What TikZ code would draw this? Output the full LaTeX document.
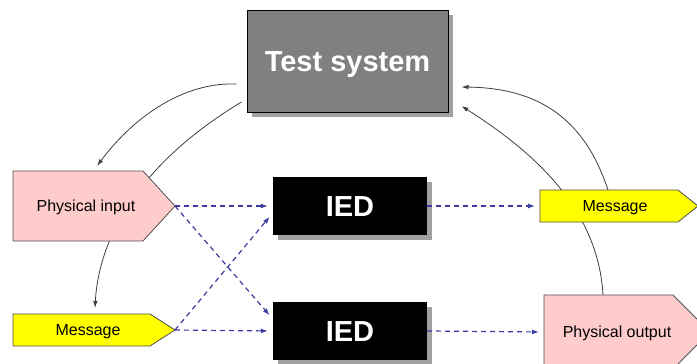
\documentclass[tikz,border=0pt]{standalone}
\usepackage{fontspec}
\setmainfont{Liberation Sans}
\usetikzlibrary{arrows.meta,calc,shadows}
\definecolor{tsgray}{HTML}{808080}
\definecolor{shade}{HTML}{A0A0A0}
\definecolor{pinkfill}{HTML}{FFCCCC}
\definecolor{msgyellow}{HTML}{FFFF00}
\definecolor{edge}{HTML}{505050}
\definecolor{wire}{HTML}{404040}
\definecolor{flow}{HTML}{3C3CA0}
\pgfdeclarelayer{wires}
\pgfsetlayers{wires,main}
\begin{document}
\begin{tikzpicture}[x=1pt,y=-1pt,
  every node/.style={inner sep=0pt},
  boxshadow/.style={drop shadow={shadow xshift=5pt,shadow yshift=-5pt,fill=shade,draw=none,opacity=1}},
  sysbox/.style={draw=black,line width=1pt,fill=tsgray,minimum width=201pt,minimum height=102pt,
    text=white,font=\fontsize{29}{34}\selectfont\bfseries,text height=20.8pt,text depth=0pt,boxshadow},
  iedbox/.style={fill=black,minimum width=154pt,minimum height=58pt,
    text=white,font=\fontsize{29}{34}\selectfont\bfseries,text height=20.8pt,text depth=0pt,boxshadow},
  tagpink/.style={draw=edge,line width=0.8pt,fill=pinkfill},
  tagyellow/.style={draw=edge,line width=0.8pt,fill=msgyellow},
  tagtext/.style={font=\fontsize{16}{19}\selectfont,text height=11.5pt,text depth=0pt},
  link/.style={draw=wire,line width=0.8pt,-{Latex[length=7pt,width=4.5pt]}},
  flowarrow/.style={draw=flow,line width=1.2pt,dash pattern=on 5pt off 4pt,
    -{Latex[length=7pt,width=5pt]},shorten >=5pt}]

% canvas
\begin{pgfonlayer}{wires}
  \fill[white] (0,0) rectangle (697,364);
\end{pgfonlayer}
\useasboundingbox (0,0) rectangle (697,364);
\clip (0,0) rectangle (697,364);

% main blocks
\node[sysbox] (ts) at (347.5,61) {Test system};
\node[iedbox] (ied1) at (350,206) {IED};
\node[iedbox] (ied2) at (350,331) {IED};

% tag shaped signal boxes
\path[tagpink] (13,171) -- (143,171) -- (175,206) -- (143,241) -- (13,241) -- cycle;
\node[tagtext] (pin) at (86,206) {Physical input};
\coordinate (pin-tip) at (175,206);

\path[tagyellow] (13,314) -- (150,314) -- (175,330) -- (150,346) -- (13,346) -- cycle;
\node[tagtext] (msgl) at (88,330) {Message};
\coordinate (msgl-tip) at (175,330);

\path[tagyellow] (540,190) -- (678,190) -- (698,206) -- (678,222) -- (540,222) -- cycle;
\node[tagtext] (msgr) at (615,206) {Message};
\coordinate (msgr-in) at (540,206);

\path[tagpink] (544,295) -- (673,295) -- (710,332) -- (673,369) -- (544,369) -- cycle;
\node[tagtext] (pout) at (617,332) {Physical output};
\coordinate (pout-in) at (544,332);

% attachment points of the feedback curves
\coordinate (ts-w1) at ($(ts.west)+(-10,23)$);
\coordinate (ts-w2) at ($(ts.west)+(-5,41)$);
\coordinate (ts-e1) at ($(ts.east)+(13,26)$);
\coordinate (ts-e2) at ($(ts.east)+(13,45)$);
\coordinate (pin-n) at (97,166);
\coordinate (msgl-n) at (95,308);
\coordinate (msgr-n) at (608,190);
\coordinate (pout-n) at (603,295);

% curves run behind the boxes
\begin{pgfonlayer}{wires}
  \draw[link] (ts-w1) .. controls (185,82) and (135,115) .. (pin-n);
  \draw[link] (ts-w2) .. controls (127,171) and (98,250) .. (msgl-n);
  \draw[link] (msgr-n) .. controls (585,120) and (540,88) .. (ts-e1);
  \draw[link] (pout-n) .. controls (598,206) and (529,149) .. (ts-e2);
\end{pgfonlayer}

% dashed signal flow
\draw[flowarrow] (pin-tip) -- (ied1.west);
\draw[flowarrow] (pin-tip) -- ($(ied2.west)+(0,-12)$);
\draw[flowarrow] (msgl-tip) -- ($(ied1.west)+(0,7)$);
\draw[flowarrow] (msgl-tip) -- (ied2.west);
\draw[flowarrow] (ied1.east) -- (msgr-in);
\draw[flowarrow] (ied2.east) -- (pout-in);
\end{tikzpicture}
\end{document}
